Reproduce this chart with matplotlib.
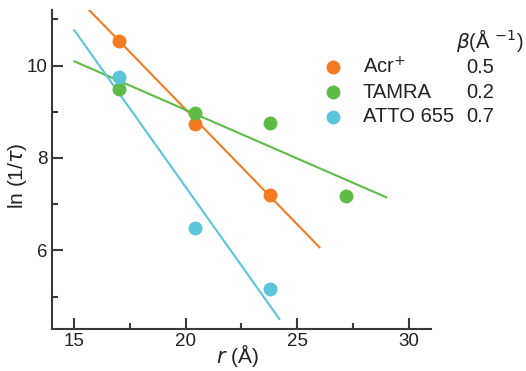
import matplotlib
matplotlib.use("Agg")
import matplotlib.pyplot as plt
import numpy as np

plt.rcParams["font.family"] = ["Liberation Sans", "DejaVu Sans"]

# measured points
names = ["Acr$^{+}$", "TAMRA", "ATTO 655"]
betas = ["0.5", "0.2", "0.7"]
colors = ["#F47B20", "#5DBB46", "#5BC5DB"]

acr_r = [17.0, 20.4, 23.8]
acr_y = [10.54, 8.74, 7.2]
tamra_r = [17.0, 20.4, 23.8, 27.2]
tamra_y = [9.5, 8.97, 8.76, 7.18]
atto_r = [17.0, 20.4, 23.8]
atto_y = [9.76, 6.48, 5.17]

# fitted lines: (x start, x end), (y at start, y at end)
fit_x = [(15.5, 26.0), (15.0, 29.0), (15.0, 24.2)]
fit_y = [(11.28, 6.07), (10.09, 7.15), (10.76, 4.52)]

series = [(acr_r, acr_y), (tamra_r, tamra_y), (atto_r, atto_y)]

fig = plt.figure(figsize=(5.26, 3.71), dpi=100)
ax = fig.add_axes([0.099, 0.113, 0.72, 0.86])

spine_c = "#3a3a3a"
for (xs, ys), fx, fy, c in zip(series, fit_x, fit_y, colors):
    ax.plot(fx, fy, color=c, lw=1.5, zorder=2)
    ax.plot(xs, ys, "o", ms=10, color=c, mec="none", zorder=3)

ax.set_xlim(14, 31)
ax.set_ylim(4.3, 11.2)
ax.set_xticks([15, 20, 25, 30])
ax.set_xticks([17.5, 22.5, 27.5], minor=True)
ax.set_yticks([6, 8, 10])
ax.set_yticks([5, 7, 9, 11], minor=True)
ax.tick_params(which="both", direction="in", color=spine_c, width=1.5,
               labelsize=13.5, labelcolor="#222222")
ax.tick_params(which="major", length=8, pad=3)
ax.tick_params(which="minor", length=4)
ax.tick_params(axis="x", which="both", top=False)
ax.tick_params(axis="y", which="both", right=False)

for s in ["top", "right"]:
    ax.spines[s].set_visible(False)
for s in ["left", "bottom"]:
    ax.spines[s].set_color(spine_c)
    ax.spines[s].set_linewidth(1.5)

ax.set_xlabel(r"$r$ (Å)", fontsize=15, color="#222222")
ax.set_ylabel(r"ln (1/$\tau$)", fontsize=15, color="#222222")
ax.xaxis.set_label_coords(0.49, -0.082)
ax.yaxis.set_label_coords(-0.092, 0.48)
ax.xaxis.label.set_va("center")
ax.yaxis.label.set_va("center")

# legend with beta column
rows_y = [0.819, 0.752, 0.685]
for name, b, c, yy in zip(names, betas, colors, rows_y):
    fig.lines.append(plt.Line2D([0.633], [yy], marker="o", ms=10, color=c,
                                mec="none", transform=fig.transFigure))
    fig.text(0.690, yy, name, fontsize=14.5, va="center", color="#222222")
    fig.text(0.886, yy, b, fontsize=14.5, va="center", color="#222222")
fig.text(0.867, 0.892, r"$\beta$(Å $^{-1}$)", fontsize=14.5, va="center",
         color="#222222")

fig.savefig("out.png", dpi=100)
